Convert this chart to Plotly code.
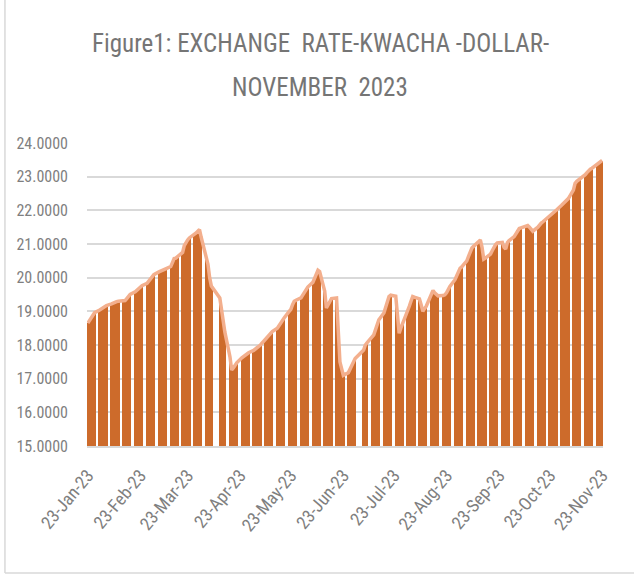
import pandas as pd
import plotly.graph_objects as go

# ---- categories ----
start_date = "2023-01-23"
end_date = "2023-11-23"
holidays = ["2023-04-07", "2023-04-10", "2023-07-03", "2023-07-04"]
dates = [d for d in pd.bdate_range(start_date, end_date) if d.strftime("%Y-%m-%d") not in holidays]

tick_dates = ["2023-01-23", "2023-02-23", "2023-03-23", "2023-04-23", "2023-05-23", "2023-06-23",
              "2023-07-23", "2023-08-23", "2023-09-23", "2023-10-23", "2023-11-23"]
tick_labels = ["23-Jan-23", "23-Feb-23", "23-Mar-23", "23-Apr-23", "23-May-23", "23-Jun-23",
               "23-Jul-23", "23-Aug-23", "23-Sep-23", "23-Oct-23", "23-Nov-23"]

title_lines = ["Figure1: EXCHANGE\u00a0 RATE-KWACHA -DOLLAR-", "NOVEMBER\u00a0 2023"]

# ---- values (ZMW per USD), weekday by weekday ----
jan_feb = [18.65, 18.72, 18.82, 18.90, 18.96,
           19.04, 19.07, 19.10, 19.13, 19.17,
           19.22, 19.25, 19.27, 19.29, 19.30,
           19.30, 19.32, 19.38, 19.44, 19.50,
           19.58, 19.63, 19.68, 19.72, 19.76]
mar = [19.83, 19.90, 19.97, 20.03, 20.09,
       20.17, 20.20, 20.22, 20.24, 20.26,
       20.33, 20.45, 20.57, 20.58, 20.62,
       20.75, 20.95, 21.05, 21.12, 21.18,
       21.27, 21.33, 21.38, 21.43, 21.20]
apr = [20.55, 20.40, 20.00, 19.75,
       19.40, 19.00, 18.70, 18.38,
       17.65, 17.26, 17.32, 17.40, 17.47,
       17.62, 17.66, 17.70, 17.74, 17.77]
may = [17.84, 17.87, 17.92, 17.96, 18.00,
       18.18, 18.24, 18.30, 18.35, 18.40,
       18.50, 18.58, 18.65, 18.73, 18.80,
       19.00, 19.06, 19.20, 19.30, 19.33,
       19.40, 19.48, 19.56, 19.64, 19.72]
jun = [19.86, 19.98, 20.10, 20.22, 20.18,
       19.60, 19.10, 19.20, 19.33, 19.38,
       19.40, 18.20, 17.50, 17.30, 17.10,
       17.18, 17.30, 17.42, 17.52, 17.60]
jul = [17.85, 18.00, 18.06,
       18.22, 18.30, 18.45, 18.60, 18.75,
       18.95, 19.10, 19.30, 19.44, 19.48,
       19.45, 18.90, 18.35, 18.50, 18.62]
aug = [19.00, 19.15, 19.30, 19.44, 19.42,
       19.37, 19.20, 19.00, 19.08, 19.15,
       19.50, 19.62, 19.55, 19.50, 19.46,
       19.47, 19.49, 19.55, 19.65, 19.74,
       19.94, 20.05, 20.16, 20.28, 20.32]
sep = [20.50, 20.63, 20.75, 20.88, 20.93,
       21.05, 21.12, 20.90, 20.55, 20.58,
       20.70, 20.80, 20.90, 20.98, 21.03,
       21.05, 20.90, 20.85, 21.04, 21.10]
octo = [21.22, 21.30, 21.42, 21.46, 21.48,
        21.53, 21.55, 21.50, 21.42, 21.38,
        21.50, 21.58, 21.62, 21.66, 21.70,
        21.82, 21.86, 21.90, 21.96, 22.01]
nov = [22.15, 22.20, 22.25, 22.30, 22.35,
       22.60, 22.80, 22.86, 22.90, 22.92,
       23.06, 23.12, 23.18, 23.22, 23.25,
       23.35, 23.40, 23.44, 23.48]
rates = jan_feb + mar + apr + may + jun + jul + aug + sep + octo + nov

ORANGE = "#CD6B2B"
SALMON = "#F3AF8D"
GRID = "#D9D9D9"
TEXT = "#7F7F7F"
FONT = "Liberation Sans Narrow, Roboto Condensed, Arial Narrow, Roboto, sans-serif"

DAY_MS = 86400000

fig = go.Figure()
fig.add_trace(go.Bar(x=dates, y=rates, width=1.45 * DAY_MS,
                     marker=dict(color=ORANGE, line=dict(width=0)), showlegend=False))
fig.add_trace(go.Scatter(x=dates, y=rates, mode="lines",
                         line=dict(color=SALMON, width=3.5), showlegend=False))

fig.update_layout(
    width=634, height=575,
    margin=dict(l=87, r=31, t=143, b=129, autoexpand=False),
    paper_bgcolor="white", plot_bgcolor="white",
    bargap=0,
    font=dict(family=FONT, color=TEXT),
)
# two-line title, each line placed separately to match the wide line spacing
for text, ypix in zip(title_lines, [44, 88]):
    fig.add_annotation(text=text, xref="paper", yref="paper",
                       x=(320 - 87) / 516, y=(446 - ypix) / 303,
                       xanchor="center", yanchor="middle", showarrow=False,
                       font=dict(family=FONT, size=25, color="#757575"))

fig.update_xaxes(type="date", range=["2023-01-22 12:00", "2023-11-23 12:00"],
                 tickvals=tick_dates, ticktext=tick_labels, tickangle=-50,
                 tickfont=dict(family=FONT, size=18, color=TEXT),
                 showgrid=False, showline=True, linecolor=GRID, linewidth=1.5,
                 ticks="", zeroline=False, ticklabelstandoff=10, automargin=False)
fig.update_yaxes(range=[15, 24], dtick=1, tickformat=".4f",
                 tickfont=dict(family=FONT, size=16, color=TEXT),
                 showgrid=True, gridcolor=GRID, gridwidth=1.5,
                 zeroline=False, showline=False, ticks="", ticklabelstandoff=18,
                 automargin=False)

# chart-area border (left and bottom edges visible in the reference crop)
fig.add_shape(type="line", xref="paper", yref="paper", x0=-0.159, x1=-0.159, y0=-0.419, y1=1.5,
              line=dict(color=GRID, width=1.5))
fig.add_shape(type="line", xref="paper", yref="paper", x0=-0.159, x1=1.1, y0=-0.419, y1=-0.419,
              line=dict(color=GRID, width=1.5))

fig.write_html("out.html", config={"displayModeBar": False},
               post_script="document.body.style.margin='0px';")
